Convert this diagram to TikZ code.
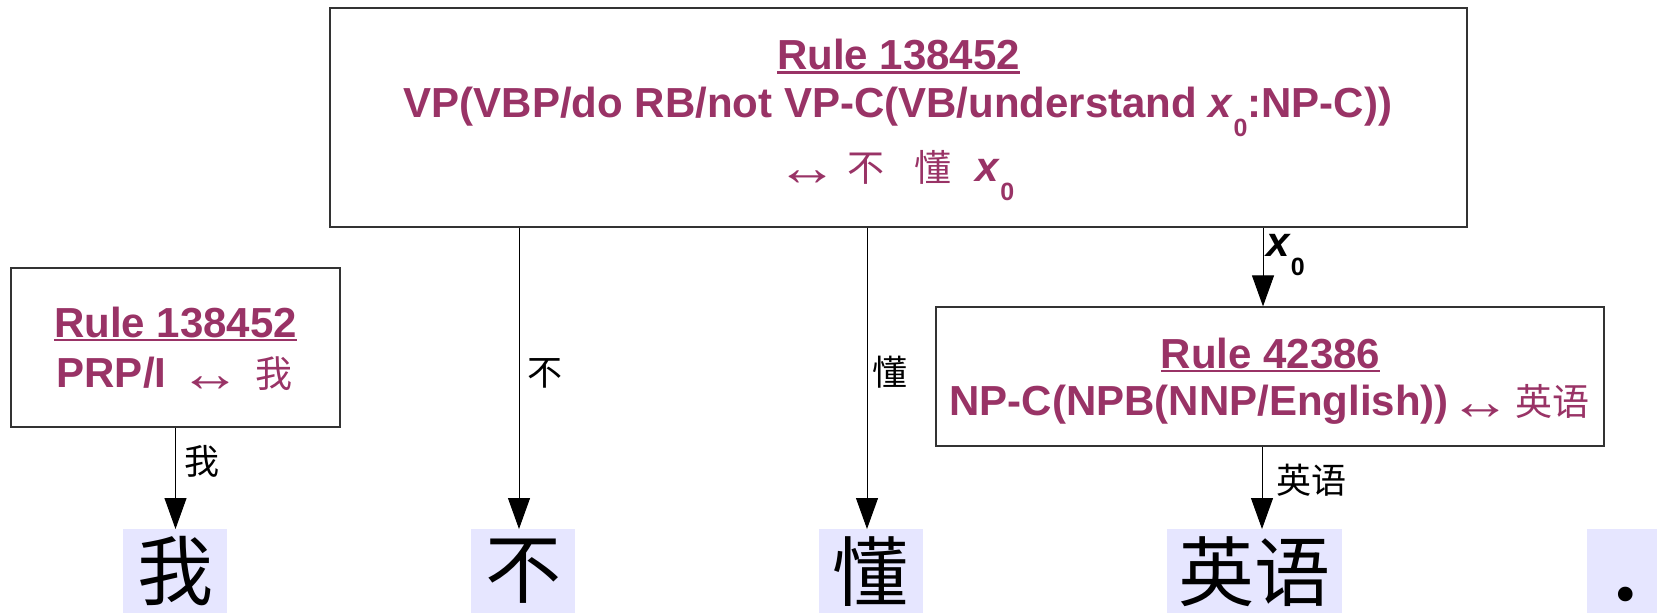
\documentclass[tikz,border=0pt]{standalone}
\usepackage{graphicx}
\usepackage{fontspec}
\setmainfont{Liberation Sans}
\newfontfamily\cjk{Noto Sans CJK SC}
\newfontfamily\arrfont{Liberation Serif}
\usetikzlibrary{arrows.meta}
\definecolor{rulepurple}{HTML}{993366}
\definecolor{wordbg}{RGB}{230,230,255}
\newsavebox\ulbox
\newcommand\bigf{\fontsize{42bp}{50bp}\selectfont\bfseries}
\newcommand\subz[1]{\raisebox{-19bp}{\fontsize{25bp}{25bp}\selectfont #1}}
\newcommand\xz{\textit{x}\subz{0}}
\newcommand\ulr[1]{\sbox\ulbox{#1}\rlap{\rule[-4bp]{\wd\ulbox}{2.5bp}}\usebox\ulbox}
\newcommand\harr{\raisebox{-4bp}{\scalebox{1.55}[1.3]{\arrfont\mdseries\fontsize{40bp}{40bp}\selectfont ↔}}}
\newcommand\pcjk[1]{{\cjk\mdseries\fontsize{37bp}{37bp}\selectfont #1}}
\tikzset{
  rulebox/.style={draw=black!80, line width=1.2bp, fill=white, inner sep=0pt},
  ruletext/.style={text=rulepurple, font=\bigf, inner sep=0pt, anchor=base},
  wordbox/.style={fill=wordbg, inner sep=0pt, minimum height=84bp, anchor=north,
    font=\cjk\fontsize{76bp}{76bp}\selectfont},
  conn/.style={draw=black, line width=1bp, -{Triangle[length=31bp,width=22bp]}},
  lbl/.style={inner sep=0pt, font=\cjk\fontsize{35bp}{35bp}\selectfont}
}
\begin{document}
\begin{tikzpicture}[x=1bp,y=-1bp]
\useasboundingbox (0,0) rectangle (1657,613);
% rule boxes
\node[rulebox, minimum width=1137bp, minimum height=219bp] (top) at (898.5,117.5) {};
\node[rulebox, minimum width=329bp, minimum height=159bp] (prp) at (175.5,347.5) {};
\node[rulebox, minimum width=668bp, minimum height=139bp] (np) at (1270,376.5) {};
% top box text
\node[ruletext] (toptitle) at (898.5,70) {\ulr{Rule 138452}};
\node[ruletext] (topl2) at (898,118) {VP(VBP/do RB/not VP-C(VB/understand \xz:NP-C))};
\node[ruletext, anchor=base west] (topl3) at (776,182) {\harr\hspace{9.5bp}\pcjk{不}\hspace{30bp}\pcjk{懂}\hspace{24bp}\xz};
% prp box text
\node[ruletext] (prptitle) at (175.5,337) {\ulr{Rule 138452}};
\node[ruletext] (prpl2) at (174.5,387) {PRP/I\hspace{13bp}\harr\hspace{14bp}\pcjk{我}};
% np box text
\node[ruletext] (nptitle) at (1270.5,368) {\ulr{Rule 42386}};
\node[ruletext] (npl2) at (1269.5,415) {NP-C(NPB(NNP/English))\hspace{1bp}\harr\hspace{3.5bp}\pcjk{英语}};
% words
\node[wordbox, minimum width=104bp] (w1) at (175,529) {我};
\node[wordbox, minimum width=104bp] (w2) at (523,529) {不};
\node[wordbox, minimum width=104bp] (w3) at (870.5,529) {懂};
\node[wordbox, minimum width=175bp] (w4) at (1254.5,529) {英语};
\node[wordbox, minimum width=70bp, font=\arrfont\bfseries\fontsize{90bp}{90bp}\selectfont] (w5) at (1622,529) {\hspace{8bp}\raisebox{-29.5bp}[0pt][0pt]{.}};
% connectors
\draw[conn] (prp.south) -- (prp.south |- w1.north);
\draw[conn] ([xshift=-4bp]w2.north |- top.south) -- ([xshift=-4bp]w2.north);
\draw[conn] ([xshift=-3.5bp]w3.north |- top.south) -- ([xshift=-3.5bp]w3.north);
\draw[conn] ([xshift=-7bp]np.north |- top.south) -- ([xshift=-7bp]np.north);
\draw[conn] ([xshift=-8bp]np.south) -- ([xshift=-8bp]np.south |- w4.north);
% connector labels
\node[lbl] (l1) at (202,461) {我};
\node[lbl] (l2) at (545,373) {不};
\node[lbl] (l3) at (890,372) {懂};
\node[lbl] (l4) at (1311,480) {英语};
\node[inner sep=0pt, anchor=base west, font=\bigf] (lx) at (1266,256) {\xz};
\end{tikzpicture}
\end{document}
